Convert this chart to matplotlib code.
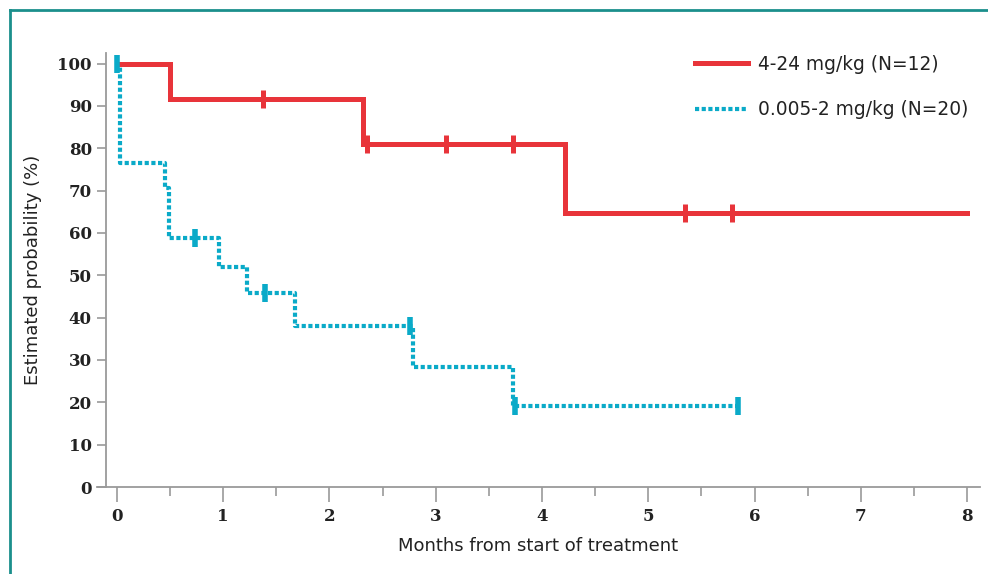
import matplotlib.pyplot as plt
from matplotlib.lines import Line2D

# Kaplan-Meier style curves
high_dose_t = [0, 0.50, 2.32, 4.22, 8.0]
high_dose_s = [100, 91.7, 81.0, 64.8, 64.8]
high_censor_t = [1.37, 2.35, 3.10, 3.73, 5.35, 5.79]
high_censor_s = [91.7, 81.0, 81.0, 81.0, 64.8, 64.8]

low_dose_t = [0, 0.03, 0.45, 0.49, 0.96, 1.22, 1.68, 2.79, 3.73, 5.84]
low_dose_s = [100, 76.5, 70.6, 58.8, 52.0, 45.8, 38.1, 28.4, 19.1, 19.1]
low_censor_t = [0.0, 0.73, 1.39, 2.76, 3.75, 5.84]
low_censor_s = [100, 58.8, 45.8, 38.1, 19.1, 19.1]

x_ticks = [0, 1, 2, 3, 4, 5, 6, 7, 8]
y_ticks = [0, 10, 20, 30, 40, 50, 60, 70, 80, 90, 100]

labels = ["4-24 mg/kg (N=12)", "0.005-2 mg/kg (N=20)"]

RED = "#e8343a"
BLUE = "#0aaac8"
AXIS_GRAY = "#9a9a9a"
TEXT = "#222222"

W, H = 988, 574
fig = plt.figure(figsize=(W / 100, H / 100), dpi=100)
ax = fig.add_axes([97 / W, 87 / H, 883 / W, 434 / H])

ax.step(low_dose_t, low_dose_s, where="post", color=BLUE, lw=3.0,
        linestyle=(0, (1, 0.6)), dash_capstyle="butt", label=labels[1],
        clip_on=False, zorder=3)
ax.step(high_dose_t, high_dose_s, where="post", color=RED, lw=3.6,
        solid_joinstyle="miter", label=labels[0], clip_on=False, zorder=4)

ax.plot(high_censor_t, high_censor_s, linestyle="none", marker="|",
        markersize=12.5, markeredgewidth=3.6, color=RED, clip_on=False, zorder=5)
ax.plot(low_censor_t, low_censor_s, linestyle="none", marker="|",
        markersize=12.5, markeredgewidth=4.0, color=BLUE, clip_on=False, zorder=5)

ax.set_xlim(-0.188, 8.122)
ax.set_ylim(0, 102.5)

for side in ["top", "right"]:
    ax.spines[side].set_visible(False)
ax.spines["left"].set_position(("data", -0.10))
for side in ["left", "bottom"]:
    ax.spines[side].set_color(AXIS_GRAY)
    ax.spines[side].set_linewidth(1.3)

ax.set_xticks(x_ticks)
ax.set_xticks([0.5, 1.5, 2.5, 3.5, 4.5, 5.5, 6.5, 7.5], minor=True)
ax.set_yticks(y_ticks)
ax.tick_params(axis="x", which="major", length=11, width=1.2, color=AXIS_GRAY, pad=4)
ax.tick_params(axis="x", which="minor", length=6.5, width=1.2, color=AXIS_GRAY)
ax.tick_params(axis="y", length=6.5, width=1.2, color=AXIS_GRAY, pad=4)

for lab in ax.get_xticklabels() + ax.get_yticklabels():
    lab.set_fontfamily("DejaVu Serif")
    lab.set_fontweight("bold")
    lab.set_fontsize(12)
    lab.set_color(TEXT)

ax.set_xlabel("Months from start of treatment", fontsize=13, color=TEXT,
              family="DejaVu Sans", labelpad=9)
ax.set_ylabel("Estimated probability (%)", fontsize=13, color=TEXT,
              family="DejaVu Sans", labelpad=11)

handles = [
    Line2D([], [], color=RED, lw=3.6),
    Line2D([], [], color=BLUE, lw=3.0, linestyle=(0, (1, 0.6))),
]
fig.legend(handles, labels, loc="upper left",
           bbox_to_anchor=(695 / W, 1 - 55 / H), bbox_transform=fig.transFigure,
           frameon=False, borderpad=0, borderaxespad=0,
           handlelength=2.85, handletextpad=0.55, labelspacing=1.4,
           prop={"family": "DejaVu Sans", "size": 13.4}, labelcolor=TEXT)

# teal frame around the figure (only top and left edges show in the crop)
frame = "#1b8f8c"
fig.add_artist(Line2D([10 / W, 10 / W], [0, 1 - 10 / H], color=frame, lw=2,
                      transform=fig.transFigure))
fig.add_artist(Line2D([10 / W, 1], [1 - 10 / H, 1 - 10 / H], color=frame, lw=2,
                      transform=fig.transFigure))

fig.savefig("out.png", dpi=100)
